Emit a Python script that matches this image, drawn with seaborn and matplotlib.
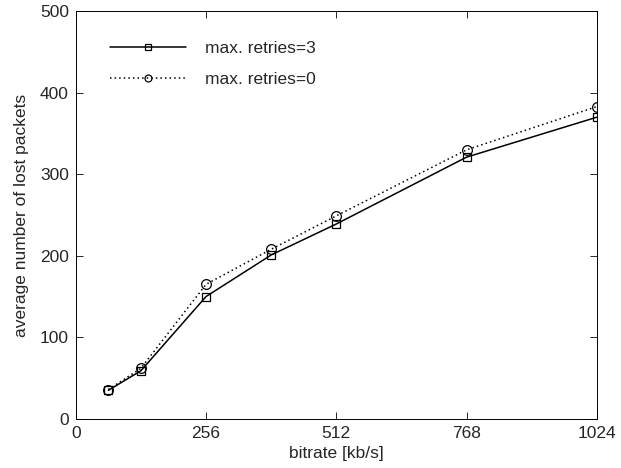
import matplotlib
matplotlib.use("Agg")
import matplotlib.pyplot as plt
import seaborn as sns
import pandas as pd

bitrate = [64, 128, 256, 384, 512, 768, 1024]
lost_retries3 = [35, 59, 150, 201, 239, 321, 370]
lost_retries0 = [36, 62, 165, 208, 249, 330, 383]
x_ticks = [0, 256, 512, 768, 1024]
y_ticks = [0, 100, 200, 300, 400, 500]

sns.set_style("white")
plt.rcParams['font.family'] = ['Liberation Sans', 'DejaVu Sans']

fig = plt.figure(figsize=(6.21, 4.68), dpi=100)
ax = fig.add_axes([0.122, 0.105, 0.839, 0.871])

df3 = pd.DataFrame({"x": bitrate, "y": lost_retries3})
df0 = pd.DataFrame({"x": bitrate, "y": lost_retries0})
sns.lineplot(data=df3, x="x", y="y", ax=ax, color="black", linewidth=1.1,
             marker="s", markersize=5.5, markerfacecolor="none",
             markeredgecolor="black", markeredgewidth=0.9, label="max. retries=3")
sns.lineplot(data=df0, x="x", y="y", ax=ax, color="black", linewidth=1.1,
             linestyle=(0, (1, 2)), marker="o", markersize=7, markerfacecolor="none",
             markeredgecolor="black", markeredgewidth=0.9, label="max. retries=0")

ax.set_xlim(0, 1024)
ax.set_ylim(0, 500)
ax.set_xticks(x_ticks)
ax.set_yticks(y_ticks)
ax.set_xlabel("bitrate [kb/s]", fontsize=12.5, labelpad=4)
ax.set_ylabel("average number of lost packets", fontsize=12.5, labelpad=8)
ax.tick_params(direction="in", length=5, labelsize=12.5, top=True, right=True,
               bottom=True, left=True, width=0.7, pad=5)
for s in ax.spines.values():
    s.set_color("black")
    s.set_linewidth(0.7)

leg = ax.legend(loc="upper left", frameon=False, fontsize=12.5,
                bbox_to_anchor=(0.065, 0.928), borderaxespad=0, borderpad=0,
                handlelength=4.4, labelspacing=0.95, handletextpad=1.1)
for h in leg.legend_handles:
    h.set_markersize(5)

fig.savefig("out.png", dpi=100)
